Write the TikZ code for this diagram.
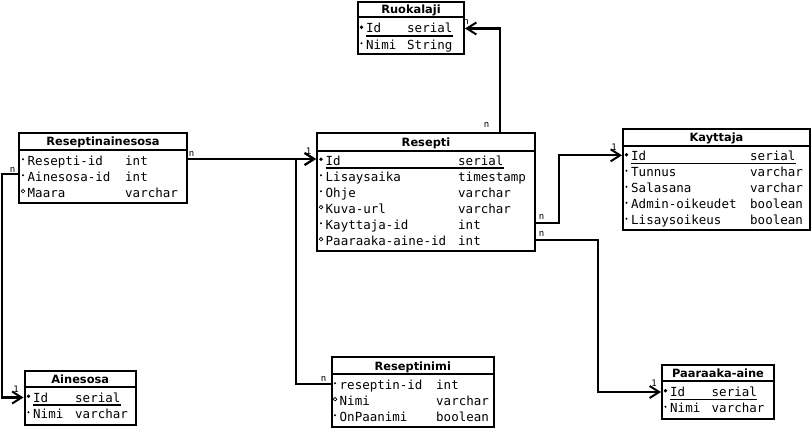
\documentclass[tikz,border=0pt]{standalone}
\usepackage{fontspec}
\usetikzlibrary{arrows.meta}
\newfontfamily\ttlfam{DejaVu Sans}
\newfontfamily\monofam{DejaVu Sans Mono}
\newcommand\ttlfont{\ttlfam\bfseries\fontsize{11.4}{13}\selectfont}
\newcommand\fldfont{\monofam\fontsize{12.5}{14}\selectfont}
\newcommand\multfont{\monofam\fontsize{9}{10}\selectfont}

\tikzset{
  tbl/.style={draw, line width=2pt, inner sep=0pt, anchor=north west},
  sep/.style={line width=2pt},
  ttl/.style={font=\ttlfont, inner sep=0pt, anchor=base},
  fld/.style={font=\fldfont, inner sep=0pt, anchor=base west},
  ul/.style={line width=1.2pt},
  keydot/.style={circle, fill, inner sep=0pt, minimum size=3.8pt},
  reqdot/.style={circle, fill, inner sep=0pt, minimum size=2.3pt},
  optdot/.style={circle, draw, line width=0.7pt, inner sep=0pt, minimum size=3.6pt},
  conn/.style={line width=2.1pt, -{Straight Barb[length=9.5pt,width=12pt,line width=2pt]}},
  mult/.style={font=\multfont, inner sep=0pt},
}

% one attribute row: #1 name, #2 bullet style, #3 baseline, #4 name x, #5 text, #6 type x, #7 type
\newcommand\erfield[7]{%
  \node[#2] (#1b) at (#4-4.5,#3-5.8) {};
  \node[fld] (#1) at (#4,#3) {#5};
  \node[fld] (#1t) at (#6,#3) {#7};
}
% underline of a primary key row
\newcommand\erkey[1]{%
  \draw[ul] ([yshift=-3pt]#1.base west) -- ([yshift=-3pt]#1t.base east);
}
% table frame with title: #1 name, #2 left, #3 top, #4 right, #5 bottom, #6 title line, #7 title
\newcommand\ertable[7]{%
  \node[tbl, minimum width=#4-#2, minimum height=#5-#3] (#1) at (#2,#3) {};
  \draw[sep] (#1.west |- 0,#6) -- (#1.east |- 0,#6);
  \node[ttl] (#1title) at (#1.north |- 0,#6-3.8) {#7};
}

\begin{document}
\begin{tikzpicture}[x=1pt,y=-1pt]
\useasboundingbox (0,0) rectangle (811,428);
\fill[white] (0,0) rectangle (811,428);

% Ruokalaji
\ertable{ruok}{357}{1.2}{463}{53.5}{17.5}{Ruokalaji}
\erfield{ruokId}{keydot}{33}{366}{Id}{407}{serial}
\erfield{ruokNimi}{reqdot}{49}{366}{Nimi}{407}{String}
\erkey{ruokId}

% Reseptinainesosa
\ertable{rai}{18}{132}{186}{201.5}{149.5}{Reseptinainesosa}
\erfield{raiRes}{reqdot}{165}{27.5}{Resepti-id}{125}{int}
\erfield{raiAin}{reqdot}{181}{27.5}{Ainesosa-id}{125}{int}
\erfield{raiMaara}{optdot}{197}{27.5}{Maara}{125}{varchar}

% Resepti
\ertable{res}{316}{132}{534}{249.5}{150.5}{Resepti}
\erfield{resId}{keydot}{165}{325.5}{Id}{458}{serial}
\erfield{resLis}{reqdot}{181}{325.5}{Lisaysaika}{458}{timestamp}
\erfield{resOhje}{reqdot}{197}{325.5}{Ohje}{458}{varchar}
\erfield{resKuva}{optdot}{213}{325.5}{Kuva-url}{458}{varchar}
\erfield{resKay}{reqdot}{229}{325.5}{Kayttaja-id}{458}{int}
\erfield{resPaa}{optdot}{245}{325.5}{Paaraaka-aine-id}{458}{int}
\erkey{resId}

% Kayttaja
\ertable{kay}{622}{128}{809}{229}{145.5}{Kayttaja}
\erfield{kayId}{keydot}{160.5}{631}{Id}{750}{serial}
\erfield{kayTun}{reqdot}{176.5}{631}{Tunnus}{750}{varchar}
\erfield{kaySal}{reqdot}{192.5}{631}{Salasana}{750}{varchar}
\erfield{kayAdm}{reqdot}{208.5}{631}{Admin-oikeudet}{750}{boolean}
\erfield{kayLis}{reqdot}{224.5}{631}{Lisaysoikeus}{750}{boolean}
\erkey{kayId}

% Ainesosa
\ertable{ain}{23.5}{370}{135}{423.5}{387}{Ainesosa}
\erfield{ainId}{keydot}{402}{33}{Id}{75}{serial}
\erfield{ainNimi}{reqdot}{418}{33}{Nimi}{75}{varchar}
\erkey{ainId}

% Reseptinimi
\ertable{rnimi}{330.5}{356}{493}{426}{374}{Reseptinimi}
\erfield{rnRes}{reqdot}{389}{339.5}{reseptin-id}{436}{int}
\erfield{rnNimi}{optdot}{405}{339.5}{Nimi}{436}{varchar}
\erfield{rnPaa}{reqdot}{421}{339.5}{OnPaanimi}{436}{boolean}

% Paaraaka-aine
\ertable{paa}{661}{364}{773}{417.5}{381}{Paaraaka-aine}
\erfield{paaId}{keydot}{396.5}{670}{Id}{711.5}{serial}
\erfield{paaNimi}{reqdot}{412.5}{670}{Nimi}{711.5}{varchar}
\erkey{paaId}

% relationships
\draw[conn] (500,0 |- res.north) |- (ruok.east |- 0,28.5);
\draw[conn] (rai.east |- 0,159) -- (res.west |- 0,159);
\draw[conn] (rai.west |- 0,174.3) -| (2,397.5) -- (ain.west |- 0,397.5);
\draw[conn] (rnimi.west |- 0,384.3) -| (296,159) -- (res.west |- 0,159);
\draw[conn] (res.east |- 0,223.3) -| (559,155.3) -- (kay.west |- 0,155.3);
\draw[conn] (res.east |- 0,240.3) -| (598,392) -- (paa.west |- 0,392);

% multiplicities
\node[mult] (m1) at (466,21.5) {n};
\node[mult] (m2) at (486.5,125) {n};
\node[mult] (m3) at (191.5,153.5) {n};
\node[mult] (m4) at (308.5,151.5) {1};
\node[mult] (m5) at (12.5,169.5) {n};
\node[mult] (m6) at (16,389.5) {1};
\node[mult] (m7) at (323.5,378.5) {n};
\node[mult] (m8) at (541.5,216.5) {n};
\node[mult] (m9) at (541.5,233.5) {n};
\node[mult] (m10) at (614,147) {1};
\node[mult] (m11) at (654,383.5) {1};
\end{tikzpicture}
\end{document}
